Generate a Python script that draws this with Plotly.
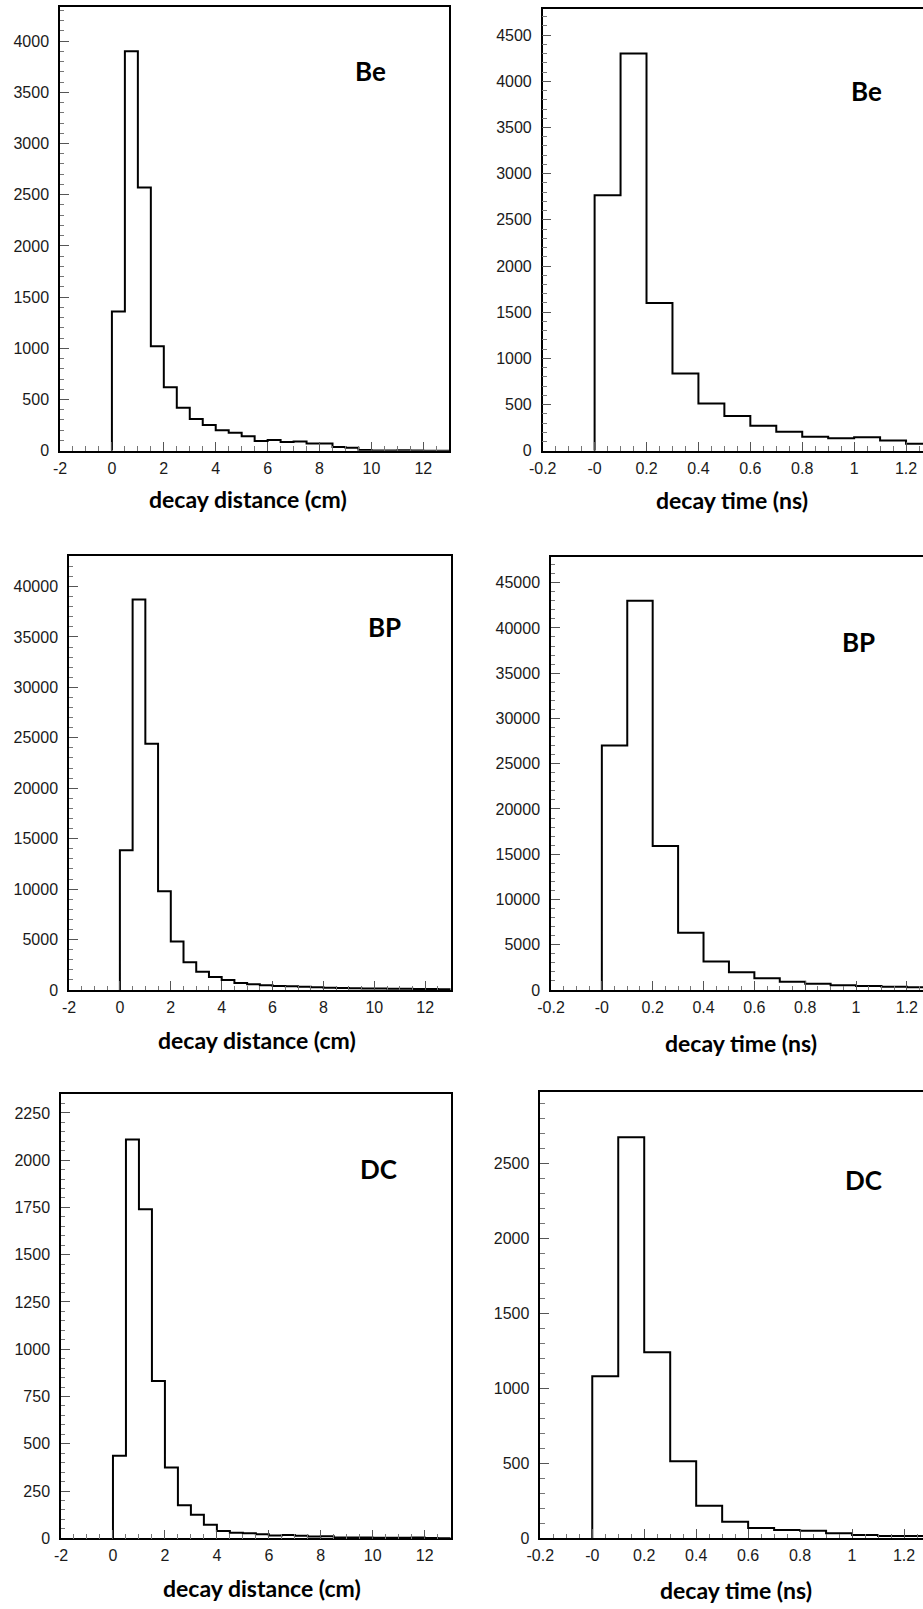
import numpy as np
import plotly.graph_objects as go

W, H = 923, 1609

# Histogram binning: decay distance in 0.5 cm bins, decay time in 0.1 ns bins
dist_edges = np.round(np.arange(0.0, 13.0 + 1e-9, 0.5), 3)
time_edges = np.round(np.arange(0.0, 1.3 + 1e-9, 0.1), 3)

# Counts per bin
be_dist = [1360, 3900, 2570, 1020, 620, 420, 310, 250, 200, 175, 140, 95, 105,
           85, 90, 70, 70, 35, 28, 8, 3, 2, 4, 1, 0, 0]
bp_dist = [13850, 38700, 24400, 9800, 4800, 2750, 1800, 1300, 1000, 700, 580, 480,
           400, 360, 310, 270, 230, 200, 180, 160, 140, 125, 115, 100, 90, 80]
dc_dist = [436, 2110, 1740, 832, 374, 175, 125, 72, 38, 30, 27, 22, 15, 18,
           13, 9, 11, 4, 4, 4, 3, 3, 3, 4, 1, 0]

be_time = [2765, 4300, 1600, 835, 510, 375, 270, 205, 150, 135, 145, 110, 75]
bp_time = [27000, 43000, 15900, 6330, 3150, 1950, 1300, 900, 700, 520, 430, 350, 300]
dc_time = [1080, 2675, 1240, 512, 215, 108, 66, 54, 48, 32, 20, 14, 14]

dist_ticks = [-2, 0, 2, 4, 6, 8, 10, 12]
dist_ticktext = ["-2", "0", "2", "4", "6", "8", "10", "12"]
time_ticks = [-0.2, 0.0, 0.2, 0.4, 0.6, 0.8, 1.0, 1.2]
time_ticktext = ["-0.2", "-0", "0.2", "0.4", "0.6", "0.8", "1", "1.2"]

samples = ["Be", "BP", "DC"]

# frame geometry in pixels: left, right, top, bottom
frames = {
    ("Be", "dist"): (60, 449.3, 7.3, 450.7),
    ("Be", "time"): (542.7, 932.0, 9.3, 450.7),
    ("BP", "dist"): (69, 450.7, 555.7, 990),
    ("BP", "time"): (551, 932.3, 557.3, 990),
    ("DC", "dist"): (61, 450.7, 1094, 1538.3),
    ("DC", "time"): (540.3, 930.0, 1092.3, 1538),
}
ymax = {
    ("Be", "dist"): 4330, ("Be", "time"): 4780,
    ("BP", "dist"): 43050, ("BP", "time"): 47800,
    ("DC", "dist"): 2350, ("DC", "time"): 2975,
}
ytick = {
    ("Be", "dist"): (500, 100), ("Be", "time"): (500, 100),
    ("BP", "dist"): (5000, 1000), ("BP", "time"): (5000, 1000),
    ("DC", "dist"): (250, 50), ("DC", "time"): (500, 100),
}
counts = {
    ("Be", "dist"): be_dist, ("Be", "time"): be_time,
    ("BP", "dist"): bp_dist, ("BP", "time"): bp_time,
    ("DC", "dist"): dc_dist, ("DC", "time"): dc_time,
}
tag_pos = {
    ("Be", "dist"): (370, 71), ("Be", "time"): (866, 91),
    ("BP", "dist"): (384, 627), ("BP", "time"): (858, 642),
    ("DC", "dist"): (378, 1169), ("DC", "time"): (863, 1180),
}
title_pos = {
    ("Be", "dist"): (248, 499), ("Be", "time"): (732, 500),
    ("BP", "dist"): (257, 1040), ("BP", "time"): (741, 1043),
    ("DC", "dist"): (262, 1588), ("DC", "time"): (736, 1590),
}
titles = {"dist": "decay distance (cm)", "time": "decay time (ns)"}

tick_font = dict(family="Liberation Sans", size=16, color="#1a1a1a")
label_font = "Lato"

fig = go.Figure()
annotations = []
idx = 0
for s in samples:
    for kind in ("dist", "time"):
        idx += 1
        key = (s, kind)
        left, right, top, bottom = frames[key]
        edges = dist_edges if kind == "dist" else time_edges
        xlo = -2.0 if kind == "dist" else -0.2
        xhi = 13.0 if kind == "dist" else 1.3
        # clip the frame at the page edge, keeping the data scale
        vis_right = min(right, W)
        xhi_vis = xlo + (xhi - xlo) * (vis_right - left) / (right - left)

        vals = list(counts[key])
        xs = [float(edges[0])] + [float(e) for e in edges]
        ys = [0] + vals + [vals[-1]]

        xa = "x" if idx == 1 else f"x{idx}"
        ya = "y" if idx == 1 else f"y{idx}"
        fig.add_trace(go.Scatter(
            x=xs, y=ys, mode="lines", line=dict(color="black", width=2, shape="hv"),
            xaxis=xa, yaxis=ya, showlegend=False, hoverinfo="skip",
        ))

        xname = "xaxis" if idx == 1 else f"xaxis{idx}"
        yname = "yaxis" if idx == 1 else f"yaxis{idx}"
        major, minor = ytick[key]
        fig.layout[xname] = dict(
            domain=[left / W, vis_right / W], anchor=ya, range=[xlo, xhi_vis],
            automargin=False,
            showgrid=False, zeroline=False, showline=True, linecolor="black",
            linewidth=1.5, mirror=True,
            tickmode="array",
            tickvals=dist_ticks if kind == "dist" else time_ticks,
            ticktext=dist_ticktext if kind == "dist" else time_ticktext,
            ticks="inside", ticklen=9, tickwidth=1, tickcolor="#555",
            minor=dict(dtick=0.5 if kind == "dist" else 0.05, tick0=0,
                       ticks="inside", ticklen=4.5, tickwidth=1, tickcolor="#777"),
            tickfont=tick_font, ticklabelstandoff=2,
        )
        fig.layout[yname] = dict(
            domain=[1 - bottom / H, 1 - top / H], anchor=xa, range=[0, ymax[key]],
            automargin=False,
            showgrid=False, zeroline=False, showline=True, linecolor="black",
            linewidth=1.5, mirror=(right <= W),
            tickmode="linear", tick0=0, dtick=major, tickformat="d",
            ticks="inside", ticklen=9, tickwidth=1, tickcolor="#555",
            minor=dict(dtick=minor, tick0=0, ticks="inside", ticklen=4.5,
                       tickwidth=1, tickcolor="#777"),
            tickfont=tick_font, ticklabelstandoff=6,
        )

        tx, ty = tag_pos[key]
        annotations.append(dict(
            text=f"<b>{s}</b>", x=tx / W, y=1 - ty / H, xref="paper", yref="paper",
            showarrow=False, xanchor="center", yanchor="middle",
            font=dict(family=label_font, size=26, color="black"),
        ))
        ax_, ay_ = title_pos[key]
        annotations.append(dict(
            text=f"<b>{titles[kind]}</b>", x=ax_ / W, y=1 - ay_ / H,
            xref="paper", yref="paper", showarrow=False,
            xanchor="center", yanchor="middle",
            font=dict(family=label_font, size=23, color="black"),
        ))

fig.update_layout(
    width=W, height=H, margin=dict(l=0, r=0, t=0, b=0),
    paper_bgcolor="white", plot_bgcolor="white",
    annotations=annotations, showlegend=False,
)

fig.write_html("out.html")
